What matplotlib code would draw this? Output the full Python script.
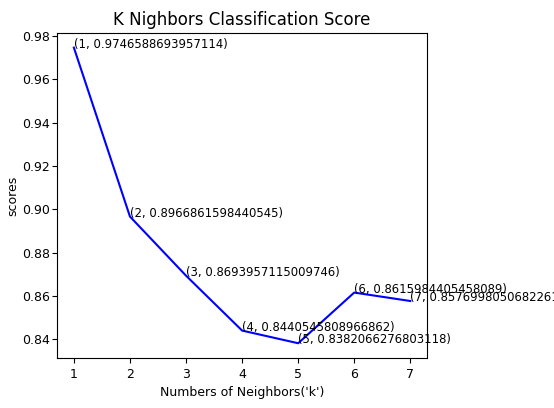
import numpy as np
import matplotlib.pyplot as plt

# scores for each number of neighbours
k_values = [1, 2, 3, 4, 5, 6, 7]
scores = [0.9746588693957114, 0.8966861598440545, 0.8693957115009746,
          0.8440545808966862, 0.8382066276803118, 0.8615984405458089,
          0.8576998050682261]

plt.rcParams['font.family'] = 'DejaVu Sans'
plt.rcParams['font.size'] = 9

fig = plt.figure(figsize=(5.54, 4.08), dpi=100)
ax = fig.add_axes([0.103, 0.1225, 0.668, 0.797])
ax.plot(k_values, scores, color='blue')
# label every point with its (k, score) pair
for k, s in zip(k_values, scores):
    ax.text(k, s, str((k, s)), fontsize=8.4)

ax.set_xticks(k_values)
ax.tick_params(axis='y', pad=1.5)
ax.set_title("K Nighbors Classification Score", fontsize=12)
ax.set_xlabel("Numbers of Neighbors('k')")
ax.set_ylabel("scores", labelpad=2)

fig.savefig("out.png")
